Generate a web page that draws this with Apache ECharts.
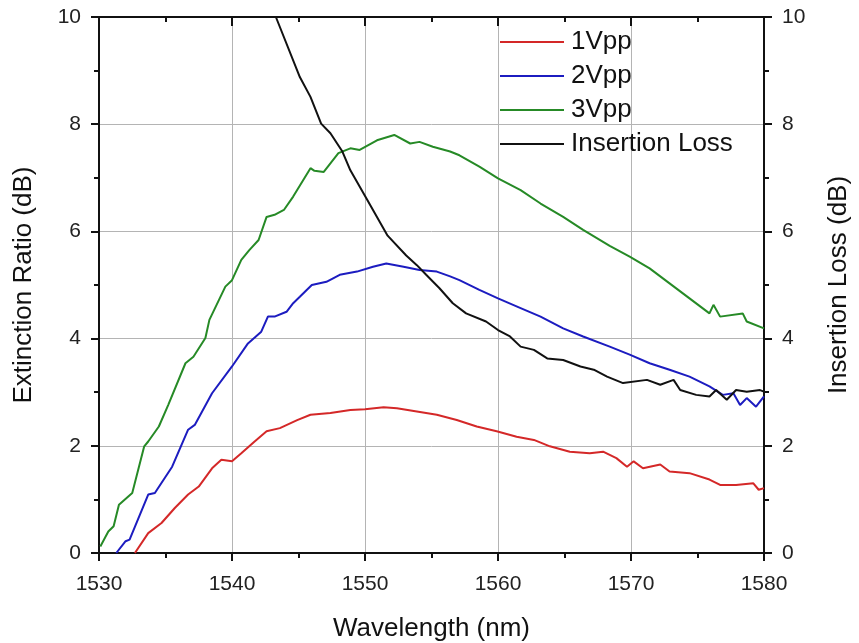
<!DOCTYPE html>
<html><head><meta charset="utf-8">
<script src="https://cdn.jsdelivr.net/npm/echarts@6/dist/echarts.min.js"></script>
<style>html,body{margin:0;padding:0;background:#fff}#c{width:859px;height:643px}</style>
</head><body><div id="c"></div>
<script>
const xTicks = [1530, 1540, 1550, 1560, 1570, 1580];
const yTicks = [0, 2, 4, 6, 8, 10];

const wl1Vpp = [1532.7,1533.7,1534.7,1535.7,1536.7,1537.5,1538.5,1539.2,1540.0,1540.7,1541.7,1542.6,1543.6,1544.9,1545.9,1547.4,1548.9,1550.0,1551.4,1552.4,1553.9,1555.4,1556.9,1558.4,1559.9,1561.4,1562.7,1563.9,1565.4,1566.9,1567.9,1568.9,1569.7,1570.2,1570.9,1572.2,1572.9,1574.4,1575.9,1576.7,1577.9,1579.2,1579.6,1580];
const er1Vpp = [0.0,0.37,0.56,0.84,1.09,1.24,1.58,1.74,1.71,1.86,2.08,2.27,2.33,2.48,2.58,2.61,2.67,2.68,2.72,2.70,2.64,2.58,2.48,2.36,2.27,2.17,2.11,1.99,1.89,1.86,1.89,1.77,1.61,1.71,1.58,1.65,1.52,1.49,1.37,1.27,1.27,1.30,1.18,1.21];

const wl2Vpp = [1531.3,1532.0,1532.3,1533.7,1534.2,1535.5,1536.7,1537.2,1538.5,1540.0,1541.2,1542.2,1542.7,1543.2,1544.1,1544.6,1545.1,1546.0,1547.1,1548.1,1549.4,1550.6,1551.6,1552.9,1554.1,1555.4,1556.4,1557.1,1558.6,1560.0,1561.7,1563.2,1564.9,1566.4,1568.4,1569.9,1571.4,1572.9,1574.4,1575.9,1576.9,1577.7,1578.2,1578.7,1579.4,1580];
const er2Vpp = [0.0,0.22,0.25,1.09,1.12,1.61,2.30,2.39,2.98,3.48,3.91,4.13,4.41,4.41,4.50,4.66,4.78,5.00,5.06,5.19,5.25,5.34,5.40,5.34,5.28,5.25,5.16,5.09,4.91,4.75,4.57,4.41,4.19,4.04,3.85,3.70,3.54,3.42,3.29,3.11,2.95,2.98,2.76,2.89,2.73,2.92];

const wl3Vpp = [1530.1,1530.7,1531.1,1531.5,1532.5,1533.4,1533.7,1534.5,1535.2,1536.5,1537.1,1538.0,1538.3,1539.5,1540.0,1540.7,1541.3,1542.0,1542.6,1543.2,1543.9,1544.6,1545.9,1546.2,1546.9,1548.0,1548.9,1549.6,1550.9,1552.2,1553.4,1554.1,1555.1,1556.4,1557.1,1558.6,1560.0,1561.7,1563.2,1564.9,1566.4,1568.4,1569.9,1571.4,1572.9,1574.4,1575.9,1576.2,1576.7,1578.4,1578.7,1580];
const er3Vpp = [0.12,0.40,0.50,0.90,1.12,1.99,2.08,2.36,2.76,3.54,3.66,4.01,4.35,4.97,5.09,5.47,5.65,5.84,6.27,6.31,6.40,6.65,7.18,7.13,7.11,7.46,7.55,7.52,7.70,7.80,7.64,7.67,7.58,7.49,7.42,7.21,6.99,6.77,6.52,6.27,6.03,5.73,5.53,5.31,5.03,4.75,4.47,4.63,4.41,4.47,4.32,4.19];

const wlIL = [1543.3,1545.1,1545.9,1546.7,1547.4,1548.3,1548.9,1550.1,1551.7,1553.1,1553.9,1554.6,1555.6,1556.6,1557.6,1559.1,1560.0,1560.9,1561.7,1562.7,1563.7,1564.9,1566.2,1567.2,1568.2,1569.4,1571.2,1572.2,1573.2,1573.7,1574.9,1575.9,1576.4,1577.2,1577.9,1578.7,1579.7,1580];
const insLoss = [10.0,8.88,8.51,8.01,7.83,7.49,7.14,6.62,5.92,5.55,5.37,5.19,4.94,4.66,4.47,4.32,4.16,4.04,3.85,3.79,3.63,3.60,3.48,3.42,3.29,3.17,3.23,3.14,3.23,3.04,2.95,2.92,3.04,2.86,3.04,3.01,3.04,3.01];

const zip = (a, b) => a.map((v, i) => [v, b[i]]);
const FONT = '"Liberation Sans", Arial, sans-serif';

const chart = echarts.init(document.getElementById('c'));
const lineS = (name, xs, ys, color, yIdx) => ({
  name, type: 'line', data: zip(xs, ys), yAxisIndex: yIdx, xAxisIndex: 0,
  showSymbol: false, symbol: 'none', clip: true,
  lineStyle: { color, width: 2 }, itemStyle: { color }, animation: false
});
const tickStyle = { color: '#111', width: 2 };
const labelStyle = { fontFamily: FONT, fontSize: 21, color: '#222', margin: 18, formatter: v => String(v) };
const xLabelStyle = Object.assign({}, labelStyle, { margin: 21 });
const nameStyle = { fontFamily: FONT, fontSize: 26, color: '#111' };

chart.setOption({
  animation: false,
  backgroundColor: '#fff',
  grid: { left: 99, right: 95, top: 17, bottom: 90, containLabel: false, outerBoundsMode: 'none' },
  legend: {
    orient: 'vertical', left: 495, top: 24, itemWidth: 64, itemHeight: 14, itemGap: 8,
    icon: 'path://M0,6 L64,6 L64,8 L0,8 Z',
    textStyle: { fontFamily: FONT, fontSize: 26, lineHeight: 26, color: '#111', padding: [0, 0, 0, 2] },
    data: ['1Vpp', '2Vpp', '3Vpp', 'Insertion Loss']
  },
  xAxis: [{
    type: 'value', position: 'bottom', min: xTicks[0], max: xTicks[xTicks.length - 1], interval: 10,
    name: 'Wavelength (nm)', nameLocation: 'middle', nameGap: 63, nameTextStyle: nameStyle,
    axisLine: { show: true, onZero: false, lineStyle: tickStyle },
    axisTick: { show: true, inside: false, length: 8, lineStyle: tickStyle },
    minorTick: { show: true, splitNumber: 2, length: 5, lineStyle: tickStyle },
    axisLabel: xLabelStyle,
    splitLine: { show: true, lineStyle: { color: '#b4b4b4', width: 1 } }
  }, {
    type: 'value', position: 'top', min: xTicks[0], max: xTicks[xTicks.length - 1], interval: 10,
    axisLine: { show: true, onZero: false, lineStyle: tickStyle },
    axisTick: { show: true, inside: true, length: 9, lineStyle: tickStyle },
    minorTick: { show: true, splitNumber: 2, length: 5, lineStyle: tickStyle },
    axisLabel: { show: false }, splitLine: { show: false }
  }],
  yAxis: [{
    type: 'value', position: 'left', min: yTicks[0], max: yTicks[yTicks.length - 1], interval: 2,
    name: 'Extinction Ratio (dB)', nameLocation: 'middle', nameGap: 62, nameRotate: 90, nameTextStyle: nameStyle,
    axisLine: { show: true, onZero: false, lineStyle: tickStyle },
    axisTick: { show: true, inside: false, length: 8, lineStyle: tickStyle },
    minorTick: { show: true, splitNumber: 2, length: 5, lineStyle: tickStyle },
    axisLabel: labelStyle,
    splitLine: { show: true, lineStyle: { color: '#b4b4b4', width: 1 } }
  }, {
    type: 'value', position: 'right', min: yTicks[0], max: yTicks[yTicks.length - 1], interval: 2,
    name: 'Insertion Loss (dB)', nameLocation: 'middle', nameGap: 62, nameRotate: 90, nameTextStyle: nameStyle,
    axisLine: { show: true, onZero: false, lineStyle: tickStyle },
    axisTick: { show: true, inside: false, length: 8, lineStyle: tickStyle },
    minorTick: { show: true, splitNumber: 2, length: 5, lineStyle: tickStyle },
    axisLabel: labelStyle,
    splitLine: { show: false }
  }],
  series: [
    lineS('1Vpp', wl1Vpp, er1Vpp, '#d42828', 0),
    lineS('2Vpp', wl2Vpp, er2Vpp, '#1c1cc0', 0),
    lineS('3Vpp', wl3Vpp, er3Vpp, '#268a26', 0),
    lineS('Insertion Loss', wlIL, insLoss, '#111111', 1)
  ]
});
</script></body></html>
